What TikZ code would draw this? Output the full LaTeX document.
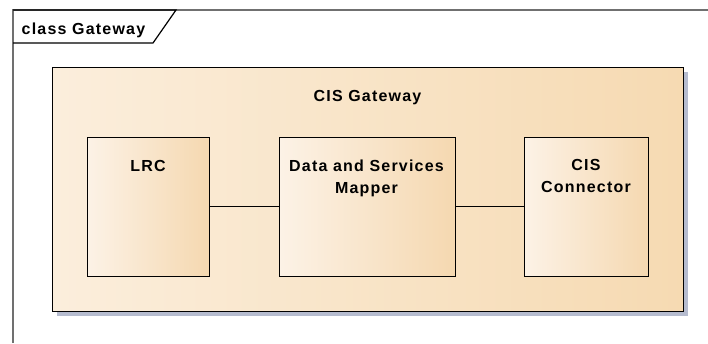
\documentclass[tikz,border=0pt]{standalone}
\usepackage{fontspec}
\setmainfont{Liberation Sans}[LetterSpace=7.5]
\definecolor{framegrey}{RGB}{112,112,112}
\definecolor{outershadow}{RGB}{182,188,207}
\definecolor{innershadow}{RGB}{216,212,206}
\definecolor{tanlight}{RGB}{252,242,230}
\definecolor{tandark}{RGB}{245,216,176}
\definecolor{outerlight}{RGB}{251,238,220}
\definecolor{outerdark}{RGB}{246,218,178}
\tikzset{
  lbl/.style={font=\bfseries\fontsize{16}{22}\selectfont, inner sep=0pt, align=center},
  outerbox/.style={draw=black, line width=1.4pt, left color=outerlight, right color=outerdark,
    rectangle, anchor=north west, inner sep=0pt},
  partbox/.style={draw=black, line width=1.4pt, left color=tanlight, right color=tandark,
    rectangle, anchor=north west, inner sep=0pt},
  link/.style={draw=black, line width=1pt},
}
\begin{document}
\begin{tikzpicture}[x=1pt, y=-1pt]
\useasboundingbox (0,0) rectangle (708,343);
\fill[white] (0,0) rectangle (708,343);

% diagram frame and its name tab
\draw[framegrey, line width=1.4pt] (13,343) -- (13,10) -- (708,10);
\draw[black, line width=1.2pt] (13,10) -- (176,10) -- (153,43) -- (13,43);
\node[lbl, anchor=base west] (title) at (21.5,34.3) {class Gateway};

% shadows
\fill[outershadow] (57,72) rectangle (688,316);
\fill[innershadow] (92,141.5) rectangle (214,281);
\fill[innershadow] (284,141.5) rectangle (460,281);
\fill[innershadow] (529,141.5) rectangle (653,281);

% enclosing component
\node[outerbox, minimum width=631pt, minimum height=244pt] (gw) at (52,67) {};
\node[lbl, anchor=base] (gwname) at (367.5,101) {CIS Gateway};

% parts
\node[partbox, minimum width=122pt, minimum height=139pt] (lrc) at (87,136.5) {};
\node[partbox, minimum width=176pt, minimum height=139pt] (map) at (279,136.5) {};
\node[partbox, minimum width=124pt, minimum height=139pt] (cis) at (524,136.5) {};

\node[lbl, anchor=base] (lrcname) at (148,171) {LRC};
\node[lbl, anchor=north] (mapname) at (366.5,159.5) {Data and Services\\Mapper};
\node[lbl, anchor=north] (cisname) at (586,159.5) {CIS\\Connector};

% connectors
\draw[link] (lrc.east) -- (map.west);
\draw[link] (map.east) -- (cis.west);
\end{tikzpicture}
\end{document}
